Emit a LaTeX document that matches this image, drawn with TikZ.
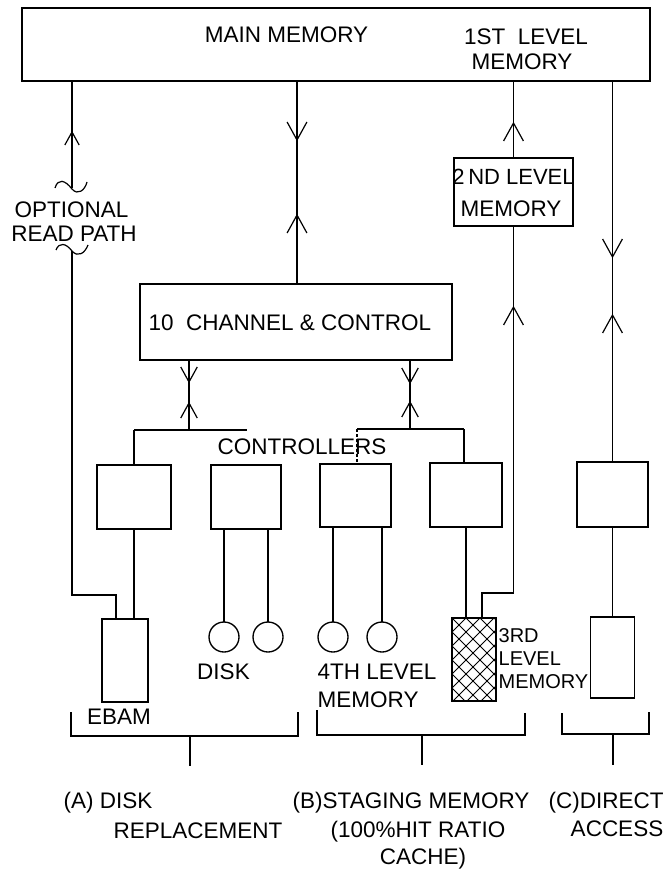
\documentclass[tikz,border=0pt]{standalone}
\usepackage{fontspec}
\setmainfont{Liberation Sans}
\begin{document}
\begin{tikzpicture}[x=1pt,y=-1pt,line width=1.35pt,
  box/.style={draw,rectangle,inner sep=0pt,outer sep=0pt},
  disk/.style={draw,circle,minimum size=30pt,inner sep=0pt,outer sep=0pt},
  lbl/.style={inner sep=0pt,anchor=base,font=\fontsize{22.5}{26}\selectfont},
  lblw/.style={lbl,anchor=base west},
  smw/.style={inner sep=0pt,anchor=base west,font=\fontsize{20}{24}\selectfont},
  head/.style={line width=1.2pt},
  brk/.style={line width=1.2pt}]
\useasboundingbox (0,0) rectangle (667,874);
\newcommand\arrup[3]{\draw[head] (#1-#3*0.55,#2+#3) -- (#1,#2) -- (#1+#3*0.55,#2+#3);}
\newcommand\arrdn[3]{\draw[head] (#1-#3*0.55,#2-#3) -- (#1,#2) -- (#1+#3*0.55,#2-#3);}

% boxes
\node[box,minimum width=628pt,minimum height=73pt] (main) at (336,44.5) {};
\node[box,minimum width=119pt,minimum height=68pt] (lvl2) at (513.5,192) {};
\node[box,minimum width=312pt,minimum height=76pt] (chan) at (296,322) {};
\node[box,minimum width=74pt,minimum height=64pt] (c1) at (134,497) {};
\node[box,minimum width=70pt,minimum height=64pt] (c2) at (246,497) {};
\node[box,minimum width=71pt,minimum height=63pt] (c3) at (355.5,495.5) {};
\node[box,minimum width=72pt,minimum height=64pt] (c4) at (466,495) {};
\node[box,minimum width=71pt,minimum height=65pt] (c5) at (612.5,494.5) {};
\node[box,minimum width=46pt,minimum height=83pt] (ebam) at (125,660.5) {};
\node[box,minimum width=44pt,minimum height=83pt] (l3) at (474,659.5) {};
\node[box,minimum width=44pt,minimum height=81pt] (dac) at (612.5,657.5) {};
\node[disk] (d1) at (224,637) {};
\node[disk] (d2) at (268,637) {};
\node[disk] (d3) at (333,637) {};
\node[disk] (d4) at (382,637) {};

% hatching of 3rd level memory
\begin{scope}
\clip (l3.south west) rectangle (l3.north east);
\foreach \k in {-98,-84,...,182} {
  \draw[line width=1pt] (452+\k,618) -- ++(100,100);
  \draw[line width=1pt] (452+\k,618) -- ++(-100,100);
}
\end{scope}
\draw (l3.south west) rectangle (l3.north east);

% coordinates
\coordinate (xL) at (72,0);
\coordinate (xM) at (297,0);
\coordinate (xA) at (189,0);
\coordinate (xB) at (410,0);
\coordinate (tU) at (72,188);
\coordinate (tD) at (72,251);
\coordinate (e1) at (72,595);
\coordinate (e2) at (116,595);
\coordinate (k1) at (513.5,593);
\coordinate (k2) at (482,593);
\coordinate (jA) at (189,430);
\coordinate (jAl) at (134,430);
\coordinate (jAr) at (247,430);
\coordinate (jB) at (410,429);
\coordinate (jBl) at (357,429);
\coordinate (jBr) at (464,429);

% optional read path
\draw (xL |- main.south) -- (tU);
\draw[head] (55,188) .. controls (58,178) and (65,180) .. (72,189) .. controls (78,196) and (85,190) .. (87,182);
\draw[head] (56,250) .. controls (59,242) and (66,243) .. (72,251) .. controls (78,258) and (85,253) .. (88,245);
\draw (tD) -- (e1) -- (e2) -- (e2 |- ebam.north);
\arrup{72}{132}{13}

% main to channel
\draw (xM |- main.south) -- (xM |- chan.north);
\arrdn{297}{140}{18}
\arrup{297}{215}{18}

% 2nd level path
\draw (lvl2.north) -- (lvl2.north |- main.south);
\draw (lvl2.south) -- (k1) -- (k2) -- (k2 |- l3.north);
\arrup{513.5}{123}{18}
\arrup{513.5}{307}{18}

% direct access path
\draw (c5.north |- main.south) -- (c5.north);
\draw (c5.south) -- (dac.north);
\arrdn{612.5}{257}{18}
\arrup{612.5}{315}{18}

% channel to controllers
\draw (xA |- chan.south) -- (jA);
\draw (jAl) -- (jAr);
\draw (jAl) -- (c1.north);
\arrdn{189}{382}{15}
\arrup{189}{403}{15}
\draw (xB |- chan.south) -- (jB);
\draw (jBl) -- (jBr);
\draw[dash pattern=on 3pt off 2pt] (jBl) -- (jBl |- c3.north);
\draw (jBr) -- (jBr |- c4.north);
\arrdn{410}{383}{15}
\arrup{410}{402}{15}

% controllers to devices
\draw (c1.south) -- (c1.south |- ebam.north);
\draw (d1 |- c2.south) -- (d1.north);
\draw (d2 |- c2.south) -- (d2.north);
\draw (d3 |- c3.south) -- (d3.north);
\draw (d4 |- c3.south) -- (d4.north);
\draw (c4.south) -- (c4.south |- l3.north);

% brackets
\draw[brk] (71,712) -- (71,736) -- (298,736) -- (298,712);
\draw[brk] (190,736) -- (190,766);
\draw[brk] (317,710) -- (317,735) -- (525,735) -- (525,713);
\draw[brk] (422,735) -- (422,765);
\draw[brk] (562,713) -- (562,734) -- (649,734) -- (649,712);
\draw[brk] (613,734) -- (613,765);

% labels
\node[lbl] (tmain) at (286.5,43) {MAIN MEMORY};
\node[lbl] (t1a) at (526,45) {1ST\ \ LEVEL};
\node[lbl] (t1b) at (522,70) {MEMORY};
\node[lbl] (top1) at (71.5,218) {OPTIONAL};
\node[lbl] (top2) at (74,242) {READ PATH};
\node[lbl,font=\fontsize{22}{26}\selectfont] (t2a) at (513.5,185) {2\,ND LEVEL};
\node[lbl] (t2b) at (511,217) {MEMORY};
\node[lbl] (tchan) at (290,330) {10\ \ CHANNEL \& CONTROL};
\node[lbl] (tctl) at (302,454) {CONTROLLERS};
\node[lbl] (tebam) at (119,724) {EBAM};
\node[lbl] (tdisk) at (223.5,679) {DISK};
\node[lblw] (t4a) at (317,679) {4TH LEVEL};
\node[lblw] (t4b) at (317,707) {MEMORY};
\node[smw] (t3a) at (498,642) {3RD};
\node[smw] (t3b) at (498,665) {LEVEL};
\node[smw] (t3c) at (498,688) {MEMORY};
\node[lblw] (ta1) at (63,808) {(A) DISK};
\node[lblw] (ta2) at (113,838) {REPLACEMENT};
\node[lblw] (tb1) at (292,808) {(B)STAGING MEMORY};
\node[lbl] (tb2) at (418,837) {(100\%HIT RATIO};
\node[lbl] (tb3) at (423,864) {CACHE)};
\node[lblw] (tc1) at (548,808) {(C)DIRECT};
\node[lbl] (tc2) at (617,836) {ACCESS};
\end{tikzpicture}
\end{document}
